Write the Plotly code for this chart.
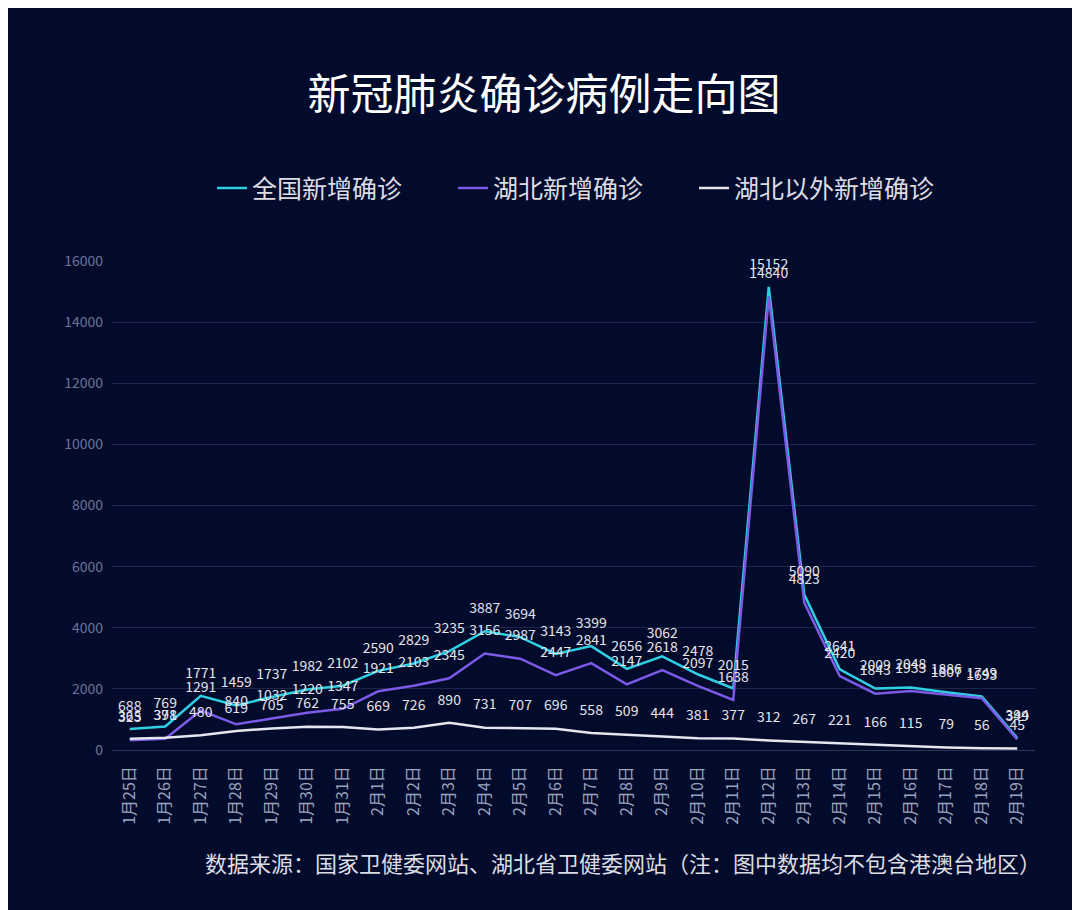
import plotly.graph_objects as go

dates = ['1月25日', '1月26日', '1月27日', '1月28日', '1月29日', '1月30日', '1月31日',
         '2月1日', '2月2日', '2月3日', '2月4日', '2月5日', '2月6日', '2月7日', '2月8日',
         '2月9日', '2月10日', '2月11日', '2月12日', '2月13日', '2月14日', '2月15日',
         '2月16日', '2月17日', '2月18日', '2月19日']
national = [688, 769, 1771, 1459, 1737, 1982, 2102, 2590, 2829, 3235, 3887, 3694, 3143,
            3399, 2656, 3062, 2478, 2015, 15152, 5090, 2641, 2009, 2048, 1886, 1749, 394]
hubei = [323, 371, 1291, 840, 1032, 1220, 1347, 1921, 2103, 2345, 3156, 2987, 2447,
         2841, 2147, 2618, 2097, 1638, 14840, 4823, 2420, 1843, 1933, 1807, 1693, 349]
outside = [365, 398, 480, 619, 705, 762, 755, 669, 726, 890, 731, 707, 696,
           558, 509, 444, 381, 377, 312, 267, 221, 166, 115, 79, 56, 45]

series = [
    ('全国新增确诊', national, '#2fd0e4'),
    ('湖北新增确诊', hubei, '#7b5ae6'),
    ('湖北以外新增确诊', outside, '#e6e6ee'),
]

BG = '#030b2c'
FONT = 'Noto Sans CJK SC'

fig = go.Figure()
for name, vals, color in series:
    fig.add_trace(go.Scatter(
        x=dates, y=vals, name=name, mode='lines',
        line=dict(color=color, width=2.5),
    ))
# value labels, lifted above each point by an invisible marker
for name, vals, color in series:
    fig.add_trace(go.Scatter(
        x=dates, y=vals, mode='markers+text', showlegend=False, hoverinfo='skip',
        marker=dict(size=22, opacity=0, color=color),
        text=[str(v) for v in vals],
        textposition='top center',
        textfont=dict(family=FONT, size=14, color='#e4e4ea'),
        cliponaxis=False,
    ))

# the page body adds an 8px offset, so the figure is 8px smaller than the window
fig.update_layout(
    width=1072, height=902,
    paper_bgcolor=BG, plot_bgcolor=BG,
    font=dict(family=FONT),
    margin=dict(l=104, r=45, t=253, b=160),
    title=dict(text='新冠肺炎确诊病例走向图', x=0.5, xanchor='center',
               y=0.9035, yanchor='middle',
               font=dict(family=FONT, size=43, color='#ffffff')),
    legend=dict(orientation='h', x=0.5, xanchor='center', y=1.149, yanchor='middle',
                font=dict(family=FONT, size=25, color='#dcdce4'),
                entrywidth=196, bgcolor='rgba(0,0,0,0)'),
    xaxis=dict(type='category', range=[-0.5, 25.5], tickangle=-90, showgrid=False,
               showline=False, ticks='', zeroline=False, ticklabelstandoff=12,
               tickfont=dict(family=FONT, size=16, color='#9aa2bc')),
    yaxis=dict(range=[0, 16000], dtick=2000, tickformat='d',
               gridcolor='#1c2648', gridwidth=1,
               zeroline=True, zerolinecolor='#2a3456', zerolinewidth=1,
               tickfont=dict(family=FONT, size=14, color='#6c7494'),
               ticks='', showline=False, ticklabelstandoff=8),
    annotations=[dict(
        text='数据来源：国家卫健委网站、湖北省卫健委网站（注：图中数据均不包含港澳台地区）',
        xref='paper', yref='paper', x=1.009, y=-0.229, xanchor='right', yanchor='middle',
        showarrow=False, font=dict(family=FONT, size=22, color='#dcdce4'),
    )],
)

fig.write_html('out.html')
